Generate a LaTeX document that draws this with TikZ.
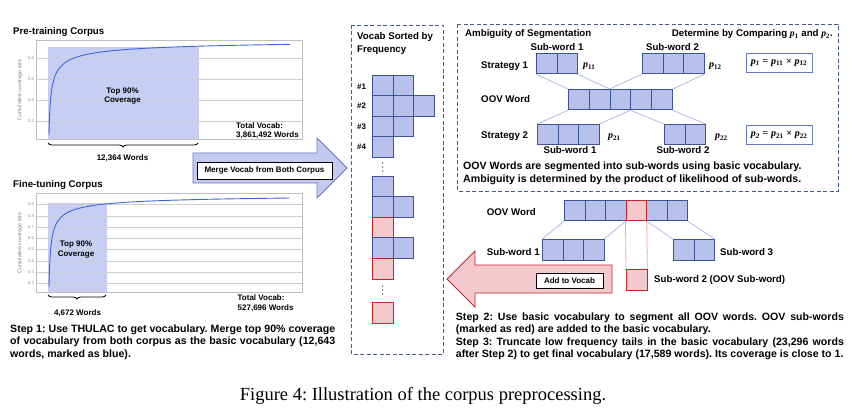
\documentclass[tikz,border=0pt]{standalone}
\usepackage{fontspec}
\setmainfont{Liberation Sans}
\newfontfamily\serif{Liberation Serif}
\usetikzlibrary{decorations.pathreplacing}
\definecolor{cellfill}{RGB}{183,193,236}
\definecolor{celldraw}{RGB}{60,85,150}
\definecolor{redfill}{RGB}{243,201,203}
\definecolor{reddraw}{RGB}{200,35,45}
\definecolor{shadeblue}{RGB}{198,207,243}
\definecolor{curvec}{RGB}{60,100,220}
\definecolor{gridc}{RGB}{205,205,205}
\definecolor{framec}{RGB}{190,190,190}
\definecolor{dashc}{RGB}{70,92,135}
\definecolor{linkc}{RGB}{176,188,232}
\definecolor{linkr}{RGB}{238,170,172}
\definecolor{arrowb}{RGB}{195,203,240}
\definecolor{arrowbd}{RGB}{100,118,190}
\definecolor{formc}{RGB}{100,120,200}
\newcommand{\pf}{\serif\bfseries\itshape}
\newcommand{\sub}[1]{\textsubscript{\serif\bfseries #1}}
\frenchspacing
\begin{document}
\begin{tikzpicture}[x=1pt,y=-1pt,
  every node/.style={inner sep=0pt},
  lab/.style={font=\fontsize{9.7}{11}\selectfont\bfseries, anchor=base west},
  labc/.style={font=\fontsize{9.7}{11}\selectfont\bfseries, anchor=base},
  labbig/.style={font=\fontsize{10.6}{12}\selectfont\bfseries, anchor=base west},
  small/.style={font=\fontsize{8}{9.5}\selectfont\bfseries, anchor=base},
  smallw/.style={font=\fontsize{8}{9.5}\selectfont\bfseries, anchor=base west},
  tick/.style={font=\fontsize{4}{4}\selectfont, text=gray, anchor=east},
  para/.style={font=\fontsize{10.6}{12.6}\selectfont\bfseries\setlength{\parindent}{0pt}\frenchspacing, align=justify, anchor=north west},
  bcell/.style={draw=celldraw, fill=cellfill, line width=0.8pt, minimum width=20.5pt, minimum height=20.5pt, anchor=north west},
  rcell/.style={draw=reddraw, fill=redfill, line width=0.8pt, minimum width=20.5pt, minimum height=20.5pt, anchor=north west},
  link/.style={draw=linkc, line width=0.8pt},
  dbox/.style={draw=dashc, line width=0.9pt, dash pattern=on 4pt off 2.5pt},
  formbox/.style={draw=formc, fill=white, line width=0.9pt, minimum width=66pt, minimum height=19pt, font=\fontsize{10}{11}\selectfont},
  tagbox/.style={draw=black, fill=white, line width=0.9pt, font=\fontsize{8}{9.5}\selectfont\bfseries}
]
\useasboundingbox (0,0) rectangle (863,417);
\fill[white] (0,0) rectangle (863,417);

% ---------------- Pre-training chart ----------------
\node[lab] (t1) at (13,35) {Pre-training Corpus};
\fill[shadeblue] (48,47) rectangle (199,139);
\foreach \yy/\v in {58/0.8,79/0.6,100/0.4,121/0.2}{
  \draw[gridc, line width=0.7pt] (36,\yy) -- (302,\yy);
  \node[tick] at (34,\yy) {\v};
}
\draw[framec, line width=0.7pt] (36,40) rectangle (302,139);
\node[font=\fontsize{5.3}{6}\selectfont, text=gray, rotate=90] (yl1) at (20,90) {Cumulative coverage rate};
\draw[curvec, line width=0.9pt] plot[domain=1:15.556, samples=140, variable=\t]
  ({48+\t*\t}, {142-105*(1-0.93*exp(-0.942*ln(\t)))});
\node[small] (c1a) at (122.5,93.3) {Top 90\%};
\node[small] (c1b) at (122.5,102.7) {Coverage};
\coordinate (b1l) at (48,143);
\coordinate (b1r) at (198,143);
\draw[line width=0.8pt, decorate, decoration={brace, mirror, amplitude=4pt}] (b1l) -- (b1r);
\node[small] (w1) at (122.5,160.7) {12,364 Words};
\node[smallw] (tv1a) at (236,128.3) {Total Vocab:};
\node[smallw] (tv1b) at (236,137.7) {3,861,492 Words};

% ---------------- Merge arrow ----------------
\draw[fill=arrowb, draw=arrowbd, line width=0.9pt]
  (193,153) -- (317,153) -- (317,138) -- (347,168) -- (317,198) -- (317,183) -- (193,183) -- cycle;
\node[tagbox, minimum width=135pt, minimum height=17pt] (merge) at (264.5,170.5) {Merge Vocab from Both Corpus};

% ---------------- Fine-tuning chart ----------------
\node[lab] (t2) at (13,188) {Fine-tuning Corpus};
\fill[shadeblue] (48,203) rectangle (107,292);
\foreach \yy/\v in {204/0.9,216/0.8,227/0.7,238/0.6,249/0.5,261/0.4,272/0.3,283/0.2}{
  \draw[gridc, line width=0.7pt] (36,\yy) -- (302,\yy);
  \node[tick] at (34,\yy) {\v};
}
\draw[framec, line width=0.7pt] (36,193) rectangle (302,292);
\node[font=\fontsize{5.3}{6}\selectfont, text=gray, rotate=90] (yl2) at (20,243) {Cumulative coverage rate};
\draw[curvec, line width=0.9pt] plot[domain=1:15.556, samples=140, variable=\t]
  ({48+\t*\t}, {305.6-112.9*(1-0.835*exp(-1.048*ln(\t)))});
\node[small] (c2a) at (76,246.7) {Top 90\%};
\node[small] (c2b) at (76,256) {Coverage};
\coordinate (b2l) at (48,295);
\coordinate (b2r) at (106,295);
\draw[line width=0.8pt, decorate, decoration={brace, mirror, amplitude=4pt}] (b2l) -- (b2r);
\node[small] (w2) at (77.5,315) {4,672 Words};
\node[smallw] (tv2a) at (237.5,300.7) {Total Vocab:};
\node[smallw] (tv2b) at (237.5,310) {527,696 Words};

\node[para, text width=325pt] (step1) at (10,323.1) {\strut Step 1: Use THULAC to get vocabulary. Merge top 90\% coverage\linebreak of vocabulary from both corpus as the basic vocabulary (12,643\linebreak words, marked as blue).};

% ---------------- Vocab column ----------------
\draw[dbox] (351,25) rectangle (443,354);
\node[lab] (vt1) at (357,40) {Vocab Sorted by};
\node[lab] (vt2) at (357,52.7) {Frequency};
\foreach \yy/\n in {89.3/1,108.3/2,129.3/3,149.3/4}{
  \node[smallw] (h\n) at (357,\yy) {\#\n};
}
\foreach \yy/\k/\c [count=\r] in {75/2/b,95.5/3/b,116/2/b,136.5/1/b,176/1/b,196.5/2/b,217/1/r,237.5/2/b,258/1/r,302/1/r}{
  \foreach \i in {1,...,\k}{
    \if\c b
      \node[bcell] (v\r-\i) at ({372+20.5*(\i-1)},\yy) {};
    \else
      \node[rcell] (v\r-\i) at ({372+20.5*(\i-1)},\yy) {};
    \fi
  }
}
\foreach \d in {-4,0,4}{
  \fill[black!70] (382.5,167+\d) circle (0.75pt);
  \fill[black!70] (382.5,290+\d) circle (0.75pt);
}

% ---------------- Ambiguity box ----------------
\draw[dbox] (457,24) rectangle (838,191);
\node[lab] (amb) at (465,37) {Ambiguity of Segmentation};
\node[font=\fontsize{9.7}{11}\selectfont\bfseries, anchor=base east] (det) at (833,37) {Determine by Comparing {\pf p}\sub{1} and {\pf p}\sub{2}.};
\node[lab] (st1) at (481,68.3) {Strategy 1};
\node[lab] (oovl) at (481,102.7) {OOV Word};
\node[lab] (st2) at (481,138.3) {Strategy 2};
\foreach \i in {1,2} \node[bcell] (a\i) at ({536+20.5*(\i-1)},53) {};
\foreach \i in {1,2,3} \node[bcell] (b\i) at ({642+20.5*(\i-1)},53) {};
\foreach \i in {1,...,5} \node[bcell, minimum width=20.8pt] (o\i) at ({568+20.8*(\i-1)},89) {};
\foreach \i in {1,2,3} \node[bcell] (c\i) at ({537+20.5*(\i-1)},124) {};
\foreach \i in {1,2} \node[bcell] (d\i) at ({664+20.5*(\i-1)},124) {};
\draw[link] (a1.south west) -- (o1.north west);
\draw[link] (a2.south east) -- (o3.north west);
\draw[link] (b1.south west) -- (o3.north west);
\draw[link] (b3.south east) -- (o5.north east);
\draw[link] (o1.south west) -- (c1.north west);
\draw[link] (o4.south west) -- (c3.north east);
\draw[link] (o4.south west) -- (d1.north west);
\draw[link] (o5.south east) -- (d2.north east);
\node[labc] (sa) at (557,50.7) {Sub-word 1};
\node[labc] (sb) at (672.5,50.7) {Sub-word 2};
\node[labc] (sc) at (570,153.3) {Sub-word 1};
\node[labc] (sd) at (683,153.3) {Sub-word 2};
\node[font=\fontsize{10}{11}\selectfont, anchor=base west] (p11) at (583,68) {{\pf p}\sub{11}};
\node[font=\fontsize{10}{11}\selectfont, anchor=base west] (p12) at (709,68) {{\pf p}\sub{12}};
\node[font=\fontsize{10}{11}\selectfont, anchor=base west] (p21) at (608,139) {{\pf p}\sub{21}};
\node[font=\fontsize{10}{11}\selectfont, anchor=base west] (p22) at (715,139) {{\pf p}\sub{22}};
\node[formbox] (f1) at (779,62.5) {{\pf p\textsubscript{1}} {\serif\bfseries =} {\pf p}\sub{11} {\serif\bfseries ×} {\pf p}\sub{12}};
\node[formbox] (f2) at (779,135) {{\pf p\textsubscript{2}} {\serif\bfseries =} {\pf p}\sub{21} {\serif\bfseries ×} {\pf p}\sub{22}};
\node[labbig] (am1) at (463,170) {OOV Words are segmented into sub-words using basic vocabulary.};
\node[labbig] (am2) at (463,182.3) {Ambiguity is determined by the product of likelihood of sub-words.};

% ---------------- OOV sub-word step ----------------
\node[lab] (oov2) at (486.7,215) {OOV Word};
\foreach \i in {1,...,6}{
  \ifnum\i=4
    \node[rcell] (q\i) at ({564+20.5*(\i-1)},200) {};
  \else
    \node[bcell] (q\i) at ({564+20.5*(\i-1)},200) {};
  \fi
}
\foreach \i in {1,2,3} \node[bcell] (e\i) at ({542+20.5*(\i-1)},239) {};
\foreach \i in {1,2} \node[bcell] (g\i) at ({673+20.5*(\i-1)},239) {};
\node[rcell] (rr) at (626,269) {};
\draw[link] (q1.south west) -- (e1.north west);
\draw[link] (q4.south west) -- (e3.north east);
\draw[link] (q4.south east) -- (g1.north west);
\draw[link] (q6.south east) -- (g2.north east);
\draw[draw=linkr, line width=0.8pt] (q4.south west) -- (rr.north west);
\draw[draw=linkr, line width=0.8pt] (q4.south east) -- (rr.north east);
\node[rcell] at (q4.north west) {};
\node[lab] (sw1) at (486.7,255) {Sub-word 1};
\node[lab] (sw3) at (720,255) {Sub-word 3};
\node[lab] (sw2) at (654,282.3) {Sub-word 2 (OOV Sub-word)};

% red arrow
\draw[fill=redfill, draw=reddraw, line width=0.9pt]
  (612,265) -- (475,265) -- (475,251) -- (447,279) -- (475,307) -- (475,293) -- (612,293) -- cycle;
\node[tagbox, minimum width=67pt, minimum height=15pt] (add) at (569.5,280.5) {Add to Vocab};

\node[para, text width=388pt] (step2) at (455.7,311.1) {\strut Step 2: Use basic vocabulary to segment all OOV words. OOV sub-words\linebreak (marked as red) are added to the basic vocabulary.\par
\strut Step 3: Truncate low frequency tails in the basic vocabulary (23,296 words\linebreak after Step 2) to get final vocabulary (17,589 words). Its coverage is close to 1.};

% caption
\node[font=\serif\fontsize{18.5}{20}\selectfont, anchor=base] (cap) at (423,400) {Figure 4: Illustration of the corpus preprocessing.};
\end{tikzpicture}
\end{document}
